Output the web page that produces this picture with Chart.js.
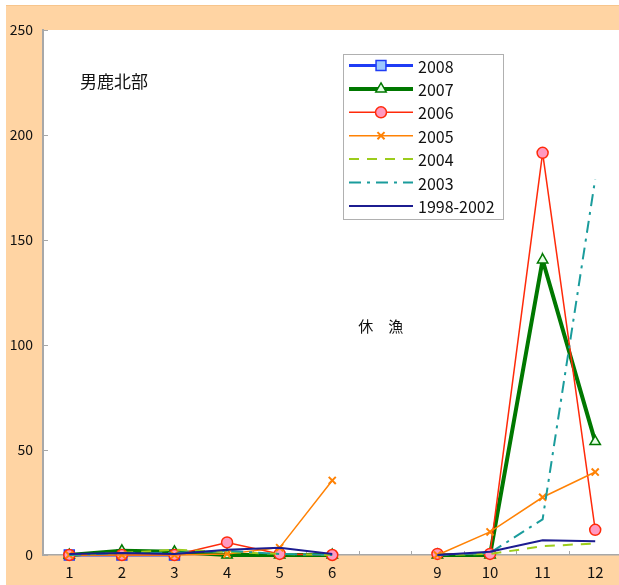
<!DOCTYPE html>
<html>
<head>
<meta charset="utf-8">
<script src="https://cdn.jsdelivr.net/npm/chart.js@4"></script>
<style>
  html, body { margin: 0; padding: 0; overflow: hidden; background: #ffffff; }
  canvas { display: block; }
</style>
</head>
<body>
<canvas id="c" width="630" height="585"></canvas>
<script>
// Monthly catch, 男鹿北部 (months 7–8 closed: 休漁)
const months = ['1', '2', '3', '4', '5', '6', '', '9', '10', '11', '12'];
const s2008 = [0, 0, 0, null, null, null, null, null, null, null, null];
const s2007 = [0, 2, 1.5, 0, 0, 0, null, 0, 0, 140.5, 54];
const s2006 = [0, 0, 0, 6, 0.5, 0, null, 0.5, 0.5, 191.5, 12];
const s2005 = [0, 0, 0, 0.5, 3.5, 35.5, null, 0, 11, 27.5, 39.5];
const s2004 = [0, 1, 2.5, 1.5, 0.5, 0, null, 0, 0.5, 4.2, 5.5];
const s2003 = [0, 1, 1, 2, 0.5, 0, null, 0, 1, 17, 179];
const s1998to2002 = [0.5, 1, 0.5, 2.5, 3.5, 0.5, null, 0, 1.5, 7, 6.5];
const yTicks = [0, 50, 100, 150, 200, 250];

const FONT = '"Noto Sans CJK JP", "Noto Sans", sans-serif';
const PEACH = '#ffd4a3';
const AXIS = '#a8a8a8';

const datasets = [
  { label: '2008', data: s2008, borderColor: '#1f3cf5', borderWidth: 3,
    pointStyle: 'rect', pointRadius: 7, pointBackgroundColor: '#9cc8ff', pointBorderColor: '#1f3cf5', pointBorderWidth: 1.5 },
  { label: '2007', data: s2007, borderColor: '#007800', borderWidth: 4,
    pointStyle: 'triangle', pointRadius: 6, pointBackgroundColor: '#e6ffe6', pointBorderColor: '#007800', pointBorderWidth: 1.5 },
  { label: '2006', data: s2006, borderColor: '#ff2a0a', borderWidth: 1.5,
    pointStyle: 'circle', pointRadius: 5.5, pointBackgroundColor: '#ff99c0', pointBorderColor: '#ff2a0a', pointBorderWidth: 1.5 },
  { label: '2005', data: s2005, borderColor: '#ff8205', borderWidth: 1.5,
    pointStyle: 'crossRot', pointRadius: 5, pointBackgroundColor: '#ff8205', pointBorderColor: '#ff8205', pointBorderWidth: 2 },
  { label: '2004', data: s2004, borderColor: '#9ccc1c', borderWidth: 2, borderDash: [10, 8],
    pointRadius: 0 },
  { label: '2003', data: s2003, borderColor: '#1a9c9c', borderWidth: 2, borderDash: [12, 6, 3, 6],
    pointRadius: 0 },
  { label: '1998-2002', data: s1998to2002, borderColor: '#1c1c90', borderWidth: 2,
    pointRadius: 0 }
].map((d, i, all) => Object.assign({
  fill: false, tension: 0, spanGaps: false, clip: false, pointHoverRadius: 0,
  order: all.length - 1 - i   // later series are painted over earlier ones
}, d));

// Peach frame behind a white plotting area
const frame = {
  id: 'frame',
  beforeDraw(chart) {
    const { ctx, chartArea: a, width, height } = chart;
    ctx.save();
    ctx.fillStyle = '#ffffff';
    ctx.fillRect(0, 0, width, height);
    ctx.fillStyle = PEACH;
    ctx.fillRect(6, 5, width - 6, height - 5);
    ctx.fillStyle = '#f7c58c';
    ctx.fillRect(6, 5, width - 6, 1);
    ctx.fillStyle = '#ffffff';
    ctx.fillRect(a.left, a.top, a.right - a.left, a.bottom - a.top);
    ctx.restore();
  }
};

// Short inward tick marks on both axes
const innerTicks = {
  id: 'innerTicks',
  beforeDatasetsDraw(chart) {
    const { ctx, chartArea: a, scales: { x, y } } = chart;
    ctx.save();
    ctx.strokeStyle = AXIS;
    ctx.lineWidth = 1;
    const n = x.getLabels().length;
    const step = x.getPixelForValue(1) - x.getPixelForValue(0);
    for (let i = 0; i <= n; i++) {
      const px = Math.round(x.getPixelForValue(i) - step / 2) + 0.5;
      ctx.beginPath();
      ctx.moveTo(px, a.bottom);
      ctx.lineTo(px, a.bottom - 4);
      ctx.stroke();
    }
    yTicks.forEach(v => {
      const py = Math.round(y.getPixelForValue(v)) + 0.5;
      ctx.beginPath();
      ctx.moveTo(a.left, py);
      ctx.lineTo(a.left + 5, py);
      ctx.stroke();
    });
    ctx.restore();
  }
};

// Area title, closed-season note and the boxed legend
const notes = {
  id: 'notes',
  afterDraw(chart) {
    const { ctx, scales: { x, y } } = chart;
    ctx.save();
    ctx.fillStyle = '#111111';
    ctx.textBaseline = 'middle';
    ctx.textAlign = 'left';
    ctx.font = '17px ' + FONT;
    ctx.fillText('男鹿北部', 80, 82);

    ctx.font = '15px ' + FONT;
    ctx.textAlign = 'center';
    const mid = (x.getPixelForValue(5) + x.getPixelForValue(7)) / 2 - 4;
    ctx.fillText('休\u3000漁', mid, y.getPixelForValue(109));

    // legend
    const bx = 343, by = 54, bw = 160, bh = 165;
    ctx.fillStyle = '#ffffff';
    ctx.fillRect(bx, by, bw, bh);
    ctx.strokeStyle = '#b0b0b0';
    ctx.lineWidth = 1;
    ctx.strokeRect(bx + 0.5, by + 0.5, bw, bh);
    ctx.font = '16px ' + FONT;
    ctx.textAlign = 'left';
    chart.data.datasets.forEach((d, i) => {
      const cy = 65.5 + i * 23.4;
      ctx.save();
      ctx.strokeStyle = d.borderColor;
      ctx.lineWidth = d.borderWidth;
      ctx.setLineDash(d.borderDash || []);
      ctx.beginPath();
      ctx.moveTo(349, cy);
      ctx.lineTo(413, cy);
      ctx.stroke();
      ctx.restore();
      if (d.pointRadius > 0) {
        ctx.save();
        ctx.fillStyle = d.pointBackgroundColor;
        ctx.strokeStyle = d.pointBorderColor;
        ctx.lineWidth = d.pointBorderWidth;
        Chart.helpers.drawPoint(ctx, { pointStyle: d.pointStyle, radius: d.pointRadius, rotation: 0, borderWidth: d.pointBorderWidth }, 381, cy);
        ctx.restore();
      }
      ctx.fillStyle = '#111111';
      ctx.fillText(d.label, 418, cy + 1);
    });
    ctx.restore();
  }
};

new Chart(document.getElementById('c'), {
  type: 'line',
  data: { labels: months, datasets },
  options: {
    responsive: false,
    animation: false,
    events: [],
    layout: { padding: { top: 30, left: 0, right: 0, bottom: 0 } },
    plugins: { legend: { display: false }, tooltip: { enabled: false } },
    scales: {
      x: {
        type: 'category',
        offset: true,
        grid: { display: false, drawTicks: false },
        border: { display: true, color: AXIS, width: 1.5 },
        ticks: { color: '#111111', font: { family: FONT, size: 15 }, padding: 8, autoSkip: false, maxRotation: 0 },
        afterFit(s) { s.height = 30; }
      },
      y: {
        min: 0, max: 250,
        afterBuildTicks(s) { s.ticks = yTicks.map(v => ({ value: v })); },
        grid: { display: false, drawTicks: false },
        border: { display: true, color: AXIS, width: 2 },
        ticks: { color: '#111111', font: { family: FONT, size: 14 }, padding: 10 },
        afterFit(s) { s.width = 43; }
      }
    }
  },
  plugins: [frame, innerTicks, notes]
});
</script>
</body>
</html>
